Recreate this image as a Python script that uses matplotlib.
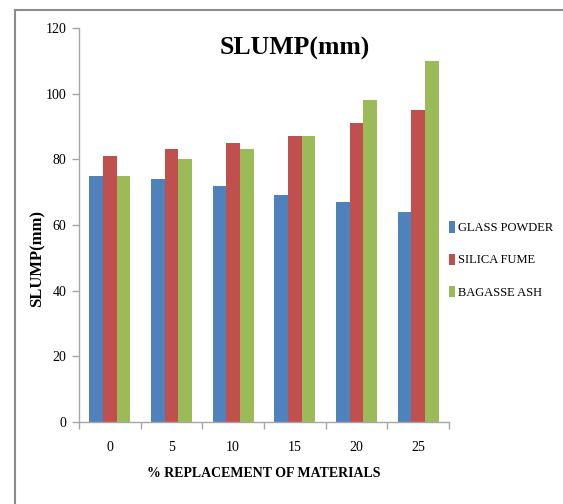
import matplotlib
matplotlib.use("Agg")
import matplotlib.pyplot as plt
import numpy as np
from matplotlib.patches import Rectangle

categories = ["0", "5", "10", "15", "20", "25"]
series_names = ["GLASS POWDER", "SILICA FUME", "BAGASSE ASH"]
glass_powder = [75, 74, 72, 69, 67, 64]
silica_fume = [81, 83, 85, 87, 91, 95]
bagasse_ash = [75, 80, 83, 87, 98, 110]
yticks = [0, 20, 40, 60, 80, 100, 120]

colors = ["#4F81BD", "#C0504D", "#9BBB59"]
plt.rcParams['font.family'] = ['Liberation Serif', 'DejaVu Serif']

fig = plt.figure(figsize=(5.63, 5.04), dpi=100)
fig.patches.append(Rectangle((15/563, -0.1), 1.2, (504-9.5)/504 + 0.1,
                             transform=fig.transFigure, fill=False,
                             edgecolor="#8C8C8C", linewidth=1.5))

ax = fig.add_axes([79/563, 82/504, 370/563, 394/504])
x = np.arange(len(categories))
w = 0.22
for i, (vals, name) in enumerate(zip([glass_powder, silica_fume, bagasse_ash], series_names)):
    ax.bar(x + (i - 1) * w, vals, width=w, color=colors[i], label=name)

ax.set_xlim(-0.5, len(categories) - 0.5)
ax.set_ylim(0, 120)
ax.set_yticks(yticks)
ax.set_yticklabels([str(t) for t in yticks], fontsize=10)
ax.set_xticks(x)
ax.set_xticklabels(categories, fontsize=10)
ax.set_xticks(np.arange(-0.5, len(categories), 1), minor=True)
ax.tick_params(axis='x', which='major', length=0, pad=14)
ax.tick_params(axis='x', which='minor', length=5, color="#A6A6A6", width=1)
ax.tick_params(axis='y', length=5, color="#A6A6A6", width=1, pad=4)
for s in ['top', 'right']:
    ax.spines[s].set_visible(False)
for s in ['left', 'bottom']:
    ax.spines[s].set_color("#A6A6A6")
    ax.spines[s].set_linewidth(1)

fig.text(295/563, (504-55)/504, "SLUMP(mm)", fontsize=18.5, fontweight='bold',
         ha='center', va='baseline')
fig.text(37/563, 0.488, "SLUMP(mm)", fontsize=12, fontweight='bold',
         rotation=90, ha='center', va='center')
fig.text(264/563, 27/504, "% REPLACEMENT OF MATERIALS", fontsize=10, fontweight='bold',
         ha='center', va='baseline')

ax.legend(loc='center left', bbox_to_anchor=(449/563, (504-260)/504),
          bbox_transform=fig.transFigure, frameon=False, fontsize=9,
          handlelength=0.5, handleheight=1.0, handletextpad=0.25,
          labelspacing=1.55, borderpad=0, borderaxespad=0)

fig.savefig("out.png", dpi=100)
